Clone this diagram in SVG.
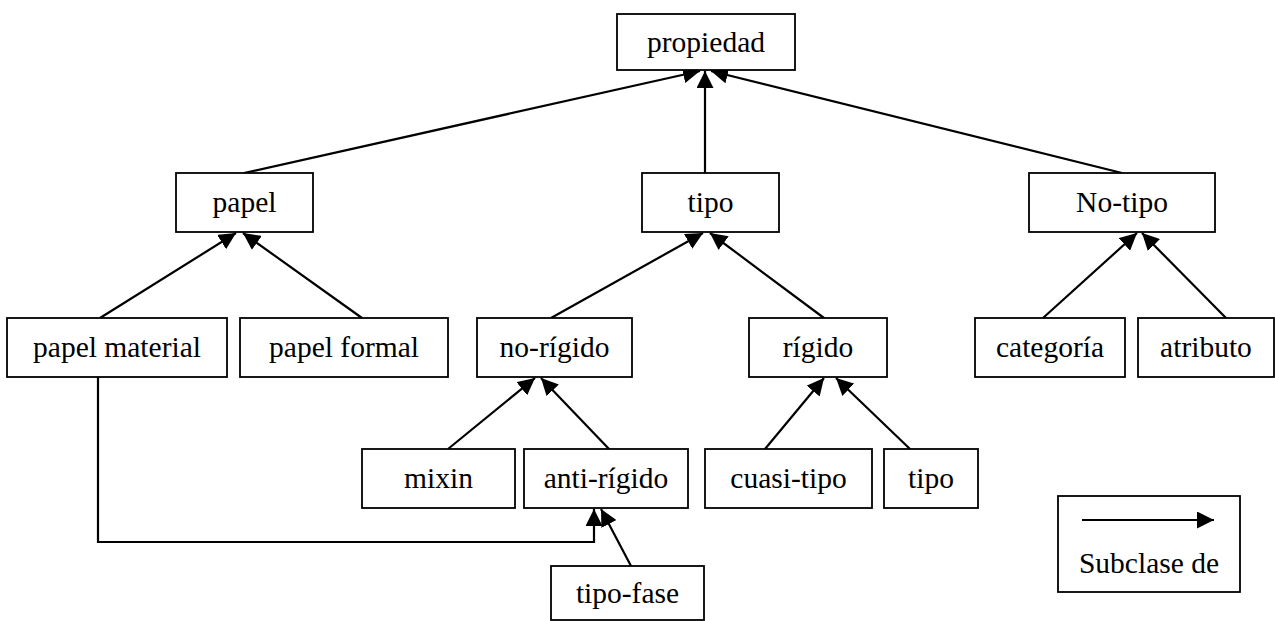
<svg xmlns="http://www.w3.org/2000/svg" width="1275" height="621" viewBox="0 0 1275 621">
  <style>
    .box { fill: #ffffff; stroke: #000000; stroke-width: 1.8; }
    .lbl { font-family: "Liberation Serif", "Times New Roman", serif; font-size: 29.5px; fill: #000000; text-anchor: middle; }
    .edge { fill: none; stroke: #000000; stroke-width: 2.2; }
  </style>
  <defs>
    <marker id="head" markerUnits="userSpaceOnUse" markerWidth="17" markerHeight="17" viewBox="0 0 15 15" refX="15" refY="7.5" orient="auto">
      <path d="M0,0 L15,7.5 L0,15 Z" fill="#000000"/>
    </marker>
  </defs>

  <rect width="1275" height="621" fill="#ffffff"/>

  <!-- subclass connectors -->
  <g id="connectors">
    <line class="edge" x1="244" y1="173" x2="700" y2="71" marker-end="url(#head)"/>
    <line class="edge" x1="705" y1="173" x2="705" y2="71" marker-end="url(#head)"/>
    <line class="edge" x1="1122" y1="173" x2="711" y2="71" marker-end="url(#head)"/>

    <line class="edge" x1="100" y1="318" x2="236" y2="233" marker-end="url(#head)"/>
    <line class="edge" x1="362" y1="318" x2="243" y2="233" marker-end="url(#head)"/>

    <line class="edge" x1="551" y1="318" x2="703" y2="233" marker-end="url(#head)"/>
    <line class="edge" x1="824" y1="318" x2="710" y2="233" marker-end="url(#head)"/>

    <line class="edge" x1="1043" y1="318" x2="1137" y2="233" marker-end="url(#head)"/>
    <line class="edge" x1="1226" y1="318" x2="1142" y2="233" marker-end="url(#head)"/>

    <line class="edge" x1="448" y1="449" x2="535" y2="378" marker-end="url(#head)"/>
    <line class="edge" x1="609" y1="449" x2="541" y2="378" marker-end="url(#head)"/>

    <line class="edge" x1="765" y1="449" x2="824" y2="378" marker-end="url(#head)"/>
    <line class="edge" x1="910" y1="449" x2="836" y2="378" marker-end="url(#head)"/>

    <line class="edge" x1="631" y1="566" x2="601" y2="509" marker-end="url(#head)"/>
    <polyline class="edge" points="98,377 98,542 594,542 594,509" marker-end="url(#head)"/>
  </g>

  <g id="n-propiedad">
    <rect class="box" x="617" y="14" width="178" height="56"/>
    <text class="lbl" x="706" y="52">propiedad</text>
  </g>

  <g id="n-papel">
    <rect class="box" x="176" y="173" width="137" height="59"/>
    <text class="lbl" x="244.5" y="212">papel</text>
  </g>
  <g id="n-tipo">
    <rect class="box" x="642" y="173" width="137" height="59"/>
    <text class="lbl" x="710.5" y="212">tipo</text>
  </g>
  <g id="n-notipo">
    <rect class="box" x="1029" y="173" width="186" height="59"/>
    <text class="lbl" x="1122" y="212">No-tipo</text>
  </g>

  <g id="n-papel-material">
    <rect class="box" x="7" y="318" width="220" height="59"/>
    <text class="lbl" x="117" y="357">papel material</text>
  </g>
  <g id="n-papel-formal">
    <rect class="box" x="240" y="318" width="208" height="59"/>
    <text class="lbl" x="344" y="357">papel formal</text>
  </g>
  <g id="n-no-rigido">
    <rect class="box" x="477" y="318" width="155" height="59"/>
    <text class="lbl" x="554.5" y="357">no-rígido</text>
  </g>
  <g id="n-rigido">
    <rect class="box" x="749" y="318" width="138" height="59"/>
    <text class="lbl" x="818" y="357">rígido</text>
  </g>
  <g id="n-categoria">
    <rect class="box" x="975" y="318" width="150" height="59"/>
    <text class="lbl" x="1050" y="357">categoría</text>
  </g>
  <g id="n-atributo">
    <rect class="box" x="1138" y="318" width="136" height="59"/>
    <text class="lbl" x="1206" y="357">atributo</text>
  </g>

  <g id="n-mixin">
    <rect class="box" x="362" y="449" width="153" height="59"/>
    <text class="lbl" x="438.5" y="488">mixin</text>
  </g>
  <g id="n-anti-rigido">
    <rect class="box" x="524" y="449" width="164" height="59"/>
    <text class="lbl" x="606" y="488">anti-rígido</text>
  </g>
  <g id="n-cuasi-tipo">
    <rect class="box" x="705" y="449" width="167" height="59"/>
    <text class="lbl" x="788.5" y="488">cuasi-tipo</text>
  </g>
  <g id="n-tipo-rigido">
    <rect class="box" x="884" y="449" width="94" height="59"/>
    <text class="lbl" x="931" y="488">tipo</text>
  </g>

  <g id="n-tipo-fase">
    <rect class="box" x="551" y="566" width="153" height="54"/>
    <text class="lbl" x="627.5" y="603">tipo-fase</text>
  </g>

  <g id="legend">
    <rect class="box" x="1058" y="496" width="182" height="96"/>
    <line class="edge" x1="1082" y1="520" x2="1214" y2="520" marker-end="url(#head)"/>
    <text class="lbl" x="1149" y="573">Subclase de</text>
  </g>
</svg>
